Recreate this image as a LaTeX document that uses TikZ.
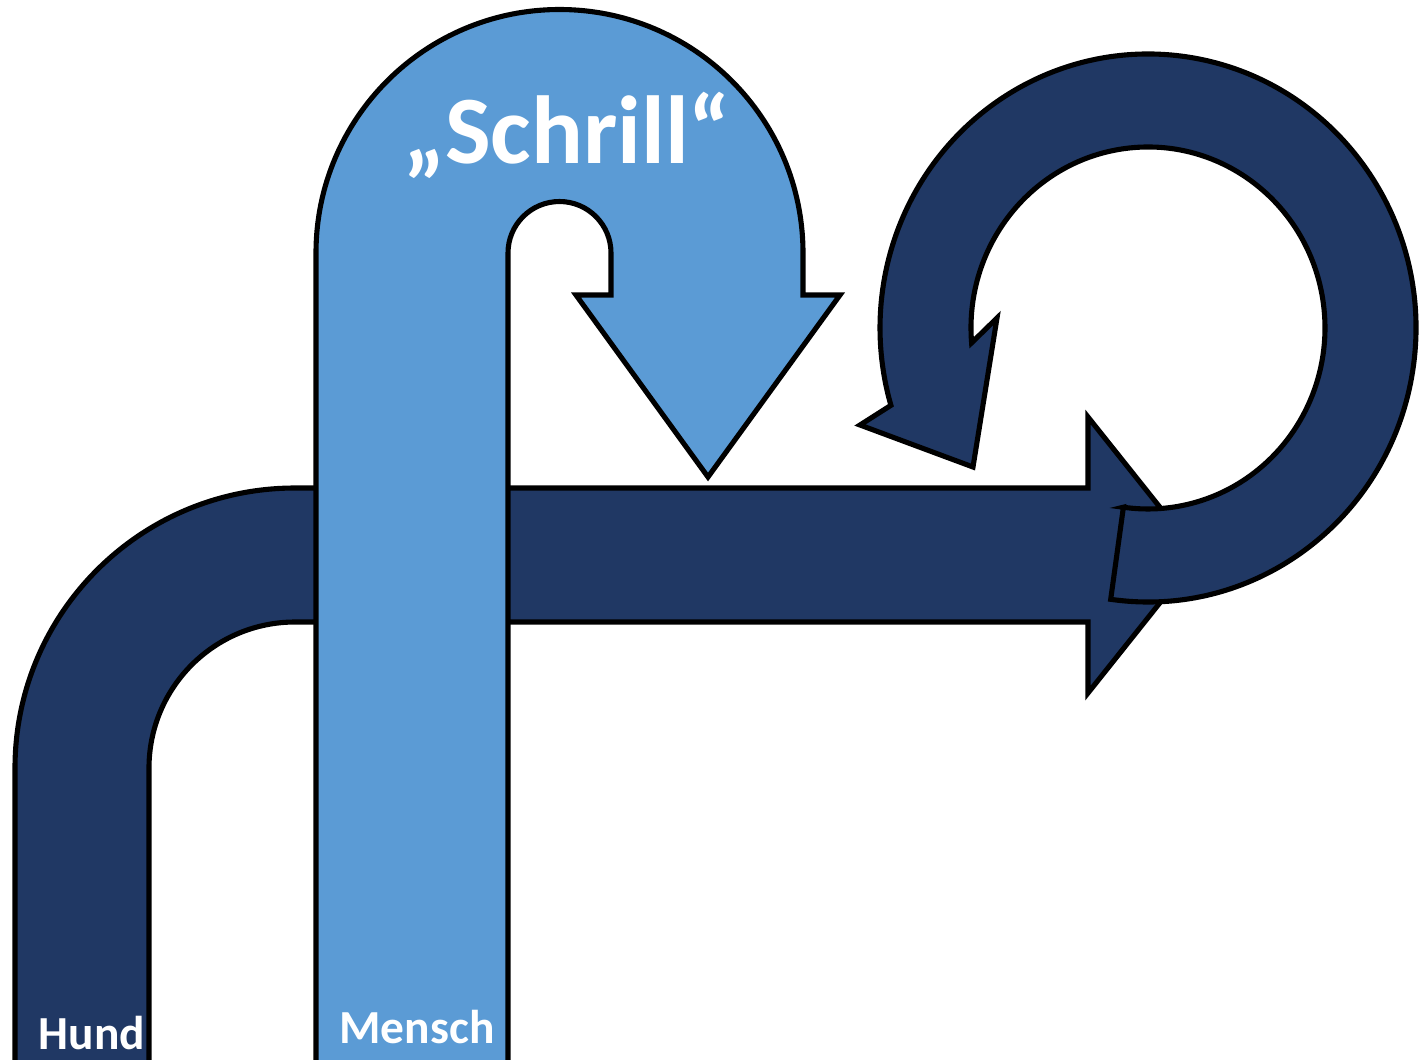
\documentclass[tikz,border=0pt]{standalone}
\usepackage{fontspec}
\setmainfont{Carlito}
\usepackage{tikz}
\definecolor{hundblue}{HTML}{203864}
\definecolor{menschblue}{HTML}{5B9BD5}

\begin{document}
\begin{tikzpicture}[
    x=0.02cm, y=-0.02cm,
    font=\bfseries,
    band/.style={draw=black, line width=2.9pt, line join=miter, miter limit=10},
    hundband/.style={band, fill=hundblue},
    menschband/.style={band, fill=menschblue},
    tag/.style={text=white, inner sep=0pt, anchor=base}
]
\clip (0,0) rectangle (1427,1059);

\draw[hundband] (15,1075) -- (15,768) arc[start angle=180, end angle=270, radius=280] -- (1088,488) -- (1088,417) -- (1198,555) -- (1088,693) -- (1088,622) -- (295,622) arc[start angle=270, end angle=180, radius=146] -- (149,1075) -- cycle;

\draw[hundband] (1123.4,507.2) -- (1110.7,599.3) arc[start angle=98, end angle=-196.4, x radius=268, y radius=274] -- (860,425) -- (973,467) -- (997,318) -- (971.6,342.8) arc[start angle=-184.7, end angle=98, x radius=177, y radius=181] -- cycle;

\draw[menschband] (316,1075) -- (316,253) arc[start angle=180, end angle=360, radius=243.5] -- (803,295) -- (840,295) -- (708,477) -- (576,295) -- (611,295) -- (611,253) arc[start angle=0, end angle=-180, radius=51.5] -- (508,1075) -- cycle;

\node[tag, font=\fontsize{55}{60}\selectfont\bfseries] (schrill) at (567,163) {„Schrill“};
\node[tag, font=\fontsize{27}{30}\selectfont\bfseries] (hund) at (92,1049) {Hund};
\node[tag, font=\fontsize{27}{30}\selectfont\bfseries] (mensch) at (417,1043) {Mensch};
\end{tikzpicture}
\end{document}
